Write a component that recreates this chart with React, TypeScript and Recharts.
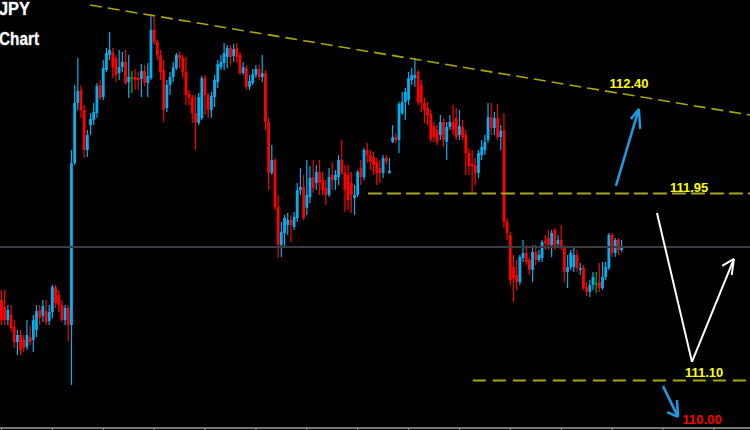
import React from 'react';
import { ComposedChart, Bar, XAxis, YAxis, ReferenceLine, ReferenceDot } from 'recharts';

// ---- candle data (USDJPY) ----
const opens = [
  111.466, 111.435, 111.375, 111.398, 111.344, 111.275, 111.307, 111.285, 111.253, 111.298,
  111.285, 111.330, 111.421, 111.394, 111.416, 111.371, 111.412, 111.525, 111.489, 111.444,
  111.375, 111.430, 111.353, 112.089, 112.362, 112.421, 112.330, 112.148, 112.262, 112.285,
  112.316, 112.444, 112.389, 112.512, 112.580, 112.594, 112.566, 112.498, 112.525, 112.548,
  112.457, 112.478, 112.480, 112.475, 112.471, 112.507, 112.453, 112.475, 112.694, 112.639,
  112.580, 112.512, 112.339, 112.444, 112.480, 112.521, 112.580, 112.566, 112.503, 112.403,
  112.385, 112.316, 112.271, 112.294, 112.475, 112.398, 112.330, 112.389, 112.457, 112.525,
  112.544, 112.571, 112.612, 112.575, 112.612, 112.580, 112.498, 112.521, 112.435, 112.453,
  112.489, 112.516, 112.480, 112.498, 112.275, 112.044, 112.103, 111.889, 111.716, 111.771,
  111.807, 111.830, 111.798, 111.839, 111.966, 111.980, 111.885, 111.935, 112.025, 111.998,
  112.048, 112.012, 111.975, 111.944, 112.035, 112.012, 112.025, 112.103, 112.044, 112.035,
  111.998, 111.930, 111.944, 112.066, 112.025, 112.148, 112.125, 112.116, 112.094, 112.066,
  112.044, 112.112, 112.044, 112.185, 112.207, 112.194, 112.316, 112.366, 112.375, 112.466,
  112.475, 112.503, 112.444, 112.362, 112.339, 112.312, 112.257, 112.239, 112.216, 112.275,
  112.185, 112.253, 112.275, 112.294, 112.216, 112.253, 112.216, 112.135, 112.085, 112.080,
  112.044, 112.125, 112.148, 112.194, 112.298, 112.248, 112.294, 112.207, 112.239, 111.821,
  111.762, 111.616, 111.580, 111.548, 111.657, 111.680, 111.648, 111.603, 111.685, 111.648,
  111.657, 111.735, 111.748, 111.716, 111.785, 111.721, 111.739, 111.707, 111.594, 111.616,
  111.616, 111.671, 111.603, 111.612, 111.525, 111.503, 111.535, 111.542, 111.548, 111.521,
  111.571, 111.612, 111.762, 111.680, 111.739, 111.694,
];
const closes = [
  111.375, 111.375, 111.421, 111.339, 111.275, 111.307, 111.239, 111.248, 111.307, 111.275,
  111.375, 111.416, 111.385, 111.439, 111.366, 111.412, 111.525, 111.453, 111.444, 111.375,
  111.430, 111.353, 112.089, 112.362, 112.416, 112.330, 112.148, 112.216, 112.289, 112.321,
  112.439, 112.385, 112.521, 112.589, 112.603, 112.521, 112.489, 112.525, 112.548, 112.453,
  112.480, 112.478, 112.466, 112.466, 112.507, 112.453, 112.485, 112.694, 112.639, 112.580,
  112.503, 112.330, 112.444, 112.480, 112.525, 112.580, 112.566, 112.503, 112.398, 112.385,
  112.316, 112.275, 112.389, 112.475, 112.398, 112.330, 112.394, 112.466, 112.539, 112.548,
  112.589, 112.612, 112.571, 112.607, 112.571, 112.498, 112.525, 112.435, 112.462, 112.494,
  112.516, 112.480, 112.498, 112.275, 112.044, 112.103, 111.889, 111.716, 111.775, 111.839,
  111.830, 111.807, 111.844, 111.966, 111.980, 111.839, 111.944, 112.021, 111.975, 112.048,
  111.998, 111.966, 111.944, 112.025, 112.012, 112.035, 112.103, 112.044, 111.966, 111.921,
  111.944, 111.944, 112.048, 112.025, 112.148, 112.125, 112.094, 112.080, 112.044, 112.044,
  112.112, 112.094, 112.053, 112.207, 112.194, 112.357, 112.366, 112.412, 112.475, 112.489,
  112.489, 112.366, 112.362, 112.330, 112.307, 112.198, 112.207, 112.185, 112.275, 112.194,
  112.253, 112.275, 112.239, 112.207, 112.257, 112.207, 112.135, 112.075, 112.075, 112.044,
  112.135, 112.162, 112.185, 112.298, 112.248, 112.294, 112.207, 112.235, 111.821, 111.771,
  111.557, 111.566, 111.548, 111.662, 111.680, 111.639, 111.603, 111.685, 111.648, 111.671,
  111.730, 111.725, 111.716, 111.771, 111.703, 111.739, 111.707, 111.594, 111.616, 111.680,
  111.671, 111.612, 111.612, 111.521, 111.503, 111.535, 111.571, 111.542, 111.521, 111.571,
  111.616, 111.762, 111.680, 111.739, 111.694, 111.707,
];
const highs = [
  111.512, 111.512, 111.444, 111.444, 111.375, 111.330, 111.330, 111.307, 111.375, 111.353,
  111.398, 111.444, 111.444, 111.466, 111.466, 111.444, 111.535, 111.535, 111.512, 111.466,
  111.444, 111.444, 112.148, 112.444, 112.566, 112.444, 112.353, 112.239, 112.316, 112.362,
  112.453, 112.466, 112.557, 112.612, 112.685, 112.612, 112.580, 112.603, 112.594, 112.603,
  112.580, 112.507, 112.516, 112.503, 112.539, 112.535, 112.544, 112.762, 112.753, 112.648,
  112.603, 112.557, 112.466, 112.503, 112.548, 112.589, 112.594, 112.580, 112.571, 112.421,
  112.398, 112.398, 112.407, 112.485, 112.489, 112.407, 112.412, 112.489, 112.557, 112.580,
  112.635, 112.625, 112.625, 112.630, 112.635, 112.594, 112.548, 112.535, 112.489, 112.516,
  112.535, 112.535, 112.580, 112.512, 112.294, 112.171, 112.112, 111.944, 111.821, 111.853,
  111.862, 111.853, 111.866, 111.998, 112.066, 112.035, 112.103, 112.075, 112.103, 112.080,
  112.103, 112.048, 112.012, 112.066, 112.094, 112.057, 112.125, 112.194, 112.080, 112.080,
  112.048, 111.989, 112.057, 112.103, 112.157, 112.180, 112.148, 112.139, 112.112, 112.103,
  112.125, 112.125, 112.112, 112.262, 112.225, 112.366, 112.412, 112.430, 112.503, 112.521,
  112.566, 112.512, 112.466, 112.385, 112.366, 112.330, 112.275, 112.262, 112.307, 112.294,
  112.275, 112.307, 112.353, 112.339, 112.330, 112.285, 112.239, 112.157, 112.148, 112.112,
  112.148, 112.194, 112.216, 112.362, 112.362, 112.321, 112.357, 112.262, 112.316, 111.839,
  111.775, 111.671, 111.648, 111.671, 111.739, 111.716, 111.657, 111.716, 111.716, 111.694,
  111.739, 111.762, 111.785, 111.785, 111.794, 111.762, 111.807, 111.716, 111.671, 111.694,
  111.707, 111.694, 111.635, 111.625, 111.548, 111.557, 111.594, 111.594, 111.635, 111.639,
  111.639, 111.771, 111.771, 111.748, 111.748, 111.739,
];
const lows = [
  111.353, 111.353, 111.353, 111.321, 111.248, 111.216, 111.216, 111.230, 111.239, 111.262,
  111.230, 111.298, 111.353, 111.366, 111.353, 111.353, 111.385, 111.430, 111.412, 111.366,
  111.353, 111.275, 111.080, 112.080, 112.330, 112.294, 112.112, 112.116, 112.216, 112.262,
  112.294, 112.375, 112.375, 112.503, 112.557, 112.475, 112.457, 112.466, 112.503, 112.444,
  112.385, 112.407, 112.421, 112.421, 112.389, 112.439, 112.389, 112.466, 112.625, 112.557,
  112.466, 112.275, 112.321, 112.398, 112.457, 112.512, 112.521, 112.475, 112.353, 112.353,
  112.271, 112.148, 112.262, 112.285, 112.307, 112.294, 112.294, 112.344, 112.430, 112.512,
  112.512, 112.521, 112.535, 112.548, 112.544, 112.489, 112.489, 112.421, 112.421, 112.444,
  112.475, 112.466, 112.457, 112.239, 111.966, 112.035, 111.876, 111.657, 111.662, 111.703,
  111.762, 111.730, 111.785, 111.821, 111.944, 111.830, 111.853, 111.907, 111.953, 111.966,
  111.944, 111.944, 111.898, 111.935, 111.966, 111.966, 111.989, 112.035, 111.866, 111.876,
  111.862, 111.853, 111.935, 111.989, 112.012, 112.089, 112.057, 112.035, 111.989, 111.998,
  112.021, 112.080, 112.040, 112.180, 112.180, 112.135, 112.307, 112.285, 112.353, 112.444,
  112.435, 112.353, 112.321, 112.271, 112.262, 112.185, 112.185, 112.171, 112.194, 112.162,
  112.103, 112.239, 112.216, 112.194, 112.194, 112.194, 112.035, 112.035, 111.953, 111.989,
  112.021, 112.103, 112.125, 112.180, 112.216, 112.216, 112.194, 112.148, 111.794, 111.739,
  111.535, 111.457, 111.512, 111.535, 111.639, 111.625, 111.580, 111.548, 111.625, 111.639,
  111.639, 111.694, 111.694, 111.662, 111.694, 111.707, 111.694, 111.548, 111.521, 111.603,
  111.594, 111.594, 111.580, 111.512, 111.485, 111.480, 111.512, 111.498, 111.503, 111.512,
  111.557, 111.603, 111.662, 111.662, 111.671, 111.685,
];

// x-axis tick positions (bar index) and price levels
const tickIdx = [0, 16, 32, 48, 64, 80, 96, 112, 128, 144, 160, 176, 192, 208, 224];
const lastPrice = 111.707;
const level1195 = 111.95;
const level1110 = 111.1;

// annotation geometry in (bar index, price)
const trendLine = [{ x: 27.8, y: 112.807 }, { x: 235.35, y: 112.307 }];
const line1195 = [{ x: 115.2, y: level1195 }, { x: 235.35, y: level1195 }];
const line1110 = [{ x: 148.2, y: level1110 }, { x: 235.35, y: level1110 }];
const blueUpArrow = [
  [{ x: 193.2, y: 111.985 }, { x: 200.4, y: 112.335 }],
  [{ x: 200.4, y: 112.335 }, { x: 197.9, y: 112.289 }],
  [{ x: 200.4, y: 112.335 }, { x: 200.8, y: 112.244 }],
];
const whiteV = [
  [{ x: 206.1, y: 111.862 }, { x: 217.1, y: 111.185 }],
  [{ x: 217.1, y: 111.185 }, { x: 230.3, y: 111.653 }],
  [{ x: 230.3, y: 111.653 }, { x: 226.6, y: 111.621 }],
  [{ x: 230.3, y: 111.653 }, { x: 229.6, y: 111.58 }],
];
const blueDownArrow = [
  [{ x: 208.0, y: 111.075 }, { x: 212.7, y: 110.935 }],
  [{ x: 212.7, y: 110.935 }, { x: 209.3, y: 110.957 }],
  [{ x: 212.7, y: 110.935 }, { x: 212.4, y: 111.012 }],
];
const priceLabels = [
  { x: 197.3, y: 112.453, text: '112.40', color: '#ffff00' },
  { x: 216.2, y: 111.98, text: '111.95', color: '#ffff00' },
  { x: 220.9, y: 111.139, text: '111.10', color: '#ffff00' },
  { x: 220.3, y: 110.925, text: '110.00', color: '#ff0000' },
];

const BLUE = '#00b0f0';
const RED = '#ff0000';
const GREEN = '#00c000';

const rows = opens.map((o, i) => ({ i, o, c: closes[i], h: highs[i], l: lows[i] }));

const Candle = (props: any) => {
  const { x, y, width, height, payload } = props;
  if (!payload) return null;
  const { o, c, h, l } = payload;
  const top = Math.min(y, y + height);
  const bottom = Math.max(y, y + height);
  const range = h - l;
  const ppu = range > 0 ? (bottom - top) / range : 0;
  const yOf = (v: number) => top + (h - v) * ppu;
  const cx = x + width / 2;
  const color = c > o ? BLUE : c < o ? RED : GREEN;
  const bTop = yOf(Math.max(o, c));
  const bBot = yOf(Math.min(o, c));
  const bh = Math.max(1.2, bBot - bTop);
  return (
    <g>
      <line x1={cx} x2={cx} y1={top} y2={bottom} stroke={color} strokeWidth={1.2} />
      <rect x={cx - 1.4} y={bTop} width={2.8} height={bh} fill={color} />
    </g>
  );
};

export default function App() {
  return (
    <div style={{ position: 'absolute', left: 0, top: 0, width: 750, height: 430, background: '#000', overflow: 'hidden' }}>
      <ComposedChart width={750} height={430} data={rows} margin={{ top: 0, right: 0, bottom: 0, left: 0 }}>
        <XAxis
          dataKey="i"
          type="number"
          domain={[-0.5, 235.35]}
          allowDataOverflow
          ticks={tickIdx}
          tickFormatter={() => ''}
          height={2}
          tickSize={2}
          axisLine={{ stroke: '#a0a0a0', strokeWidth: 1.5 }}
          tickLine={{ stroke: '#a0a0a0' }}
        />
        <YAxis hide type="number" domain={[110.8845, 112.83]} allowDataOverflow />
        <ReferenceLine y={lastPrice} stroke="#3a3e42" strokeWidth={2} />
        <ReferenceLine segment={line1195} stroke="#a8a800" strokeWidth={2} strokeDasharray="14 5" />
        <ReferenceLine segment={line1110} stroke="#a8a800" strokeWidth={2} strokeDasharray="13 7" />
        <ReferenceLine segment={trendLine} stroke="#a8a800" strokeWidth={1.6} strokeDasharray="12 6" />
        <Bar dataKey={(d: any) => [d.l, d.h]} barSize={3} shape={Candle} isAnimationActive={false} />
        {blueUpArrow.map((s, k) => (
          <ReferenceLine key={'bu' + k} segment={s} stroke="#1e9be2" strokeWidth={2.5} />
        ))}
        {whiteV.map((s, k) => (
          <ReferenceLine key={'wv' + k} segment={s} stroke="#ffffff" strokeWidth={2} />
        ))}
        {blueDownArrow.map((s, k) => (
          <ReferenceLine key={'bd' + k} segment={s} stroke="#1e9be2" strokeWidth={2.5} />
        ))}
        {priceLabels.map((p) => (
          <ReferenceDot
            key={p.text}
            x={p.x}
            y={p.y}
            r={1}
            fill="none"
            stroke="none"
            ifOverflow="visible"
            label={{
              value: p.text,
              position: 'center',
              fill: p.color,
              fontSize: 13,
              fontWeight: 'bold',
              fontFamily: 'Liberation Sans, Arial, sans-serif',
            }}
          />
        ))}
      </ComposedChart>
      <svg width={750} height={430} style={{ position: 'absolute', left: 0, top: 0, pointerEvents: 'none' }}>
        <text x={-1} y={15} fill="#fff" stroke="#555" strokeWidth={1} paintOrder="stroke" fontSize={18} fontWeight="bold" fontFamily="Liberation Sans, Arial, sans-serif" textLength={31} lengthAdjust="spacingAndGlyphs">JPY</text>
        <text x={-1} y={45} fill="#fff" stroke="#555" strokeWidth={1} paintOrder="stroke" fontSize={18} fontWeight="bold" fontFamily="Liberation Sans, Arial, sans-serif" textLength={40} lengthAdjust="spacingAndGlyphs">Chart</text>
      </svg>
    </div>
  );
}
